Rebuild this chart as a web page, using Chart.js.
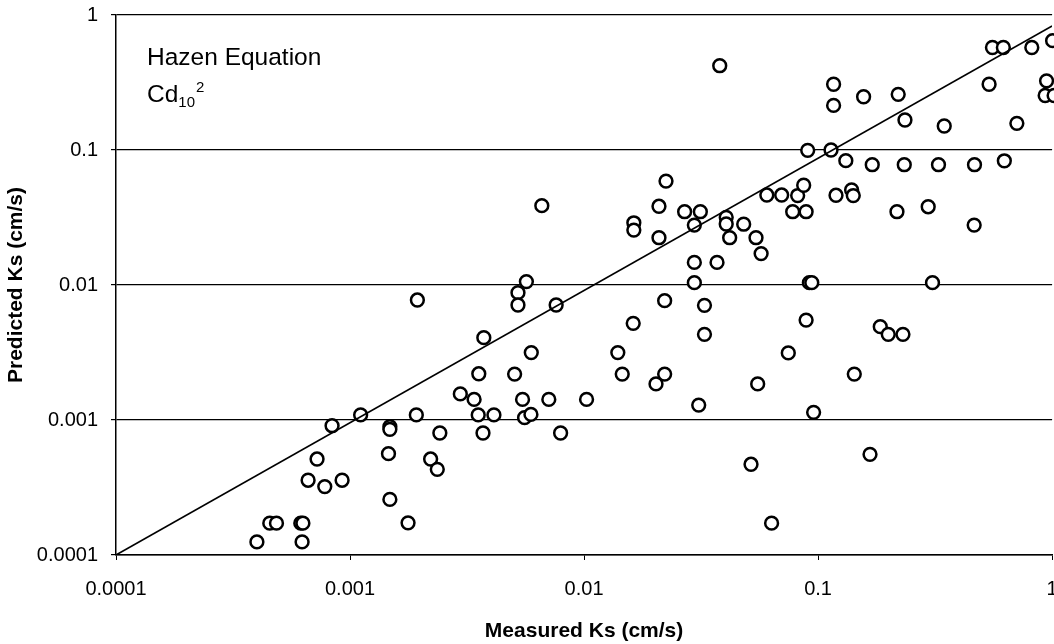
<!DOCTYPE html>
<html>
<head>
<meta charset="utf-8">
<title>Hazen Equation - Predicted vs Measured Ks</title>
<script src="https://cdn.jsdelivr.net/npm/chart.js@4.4.1/dist/chart.umd.min.js"></script>
<style>
  html, body { margin: 0; padding: 0; background: #fff; overflow: hidden; }
  /* a bit wider than the window: the plot runs off the right edge like the scan does */
  #wrap { width: 1061px; height: 644px; position: relative; }
</style>
</head>
<body>
<div id="wrap"><canvas id="ksChart"></canvas></div>
<script>
// Measured vs predicted hydraulic conductivity (cm/s)
const measuredKs = [
  0.0004, 0.000454, 0.000485, 0.000616, 0.000629, 0.000624, 0.000662, 0.000723, 0.00078, 0.000838,
  0.000925, 0.00111, 0.00148, 0.00148, 0.00146, 0.00148, 0.00177, 0.00192, 0.00194, 0.00221,
  0.00236, 0.00242, 0.00296, 0.00339, 0.00353, 0.00355, 0.0037, 0.00373, 0.00412, 0.00505,
  0.00522, 0.00522, 0.00567, 0.00546, 0.00557, 0.00593, 0.00595, 0.0066, 0.00707, 0.0076,
  0.00794, 0.01025, 0.01394, 0.01456, 0.01622, 0.01632, 0.01632, 0.0203, 0.0209, 0.0209,
  0.0221, 0.0221, 0.0224, 0.0269, 0.0296, 0.0296, 0.0296, 0.0309, 0.0314, 0.0327,
  0.0327, 0.037, 0.038, 0.0405, 0.0405, 0.0419, 0.0481, 0.0517, 0.0543, 0.0552,
  0.0571, 0.0604, 0.0633, 0.0699, 0.0746, 0.0779, 0.0818, 0.0868, 0.0889, 0.0889,
  0.0903, 0.0918, 0.094, 0.0957, 0.1136, 0.1165, 0.1165, 0.1193, 0.1314, 0.1391,
  0.1414, 0.1428, 0.1565, 0.1667, 0.1704, 0.1844, 0.1995, 0.2173, 0.22, 0.2305,
  0.2335, 0.2351, 0.2955, 0.3083, 0.327, 0.346, 0.466, 0.4645, 0.538, 0.556,
  0.619, 0.625, 0.707, 0.819, 1.005, 0.947, 0.934, 1.02
];
const predictedKs = [
  0.000125, 0.000172, 0.000172, 0.000172, 0.000172, 0.000125, 0.000358, 0.000514, 0.000321, 0.000907,
  0.000358, 0.00109, 0.000892, 0.000853, 0.000563, 0.000258, 0.000173, 0.00109, 0.00774, 0.000514,
  0.000431, 0.000801, 0.00156, 0.00142, 0.00109, 0.0022, 0.000801, 0.00407, 0.00109, 0.00219,
  0.00877, 0.00711, 0.0106, 0.00142, 0.00104, 0.0011, 0.00316, 0.0387, 0.00142, 0.00711,
  0.000801, 0.00142, 0.00316, 0.00219, 0.0052, 0.0289, 0.0255, 0.00185, 0.0383, 0.0224,
  0.00765, 0.00219, 0.0589, 0.0349, 0.0278, 0.0147, 0.0104, 0.00129, 0.0349, 0.00707,
  0.00431, 0.0147, 0.421, 0.0317, 0.0283, 0.0224, 0.0282, 0.00047, 0.0224, 0.00185,
  0.0171, 0.0464, 0.000172, 0.0464, 0.00314, 0.0349, 0.046, 0.0548, 0.0349, 0.0055,
  0.0995, 0.0104, 0.0104, 0.00114, 0.1, 0.307, 0.214, 0.0462, 0.0833, 0.0506,
  0.046, 0.00219, 0.248, 0.000557, 0.0778, 0.00491, 0.00431, 0.0349, 0.2585, 0.00431,
  0.0778, 0.1668, 0.038, 0.0104, 0.0778, 0.1506, 0.0778, 0.0278, 0.307, 0.5745,
  0.5745, 0.0832, 0.1577, 0.5745, 0.645, 0.3255, 0.2533, 0.2533
];

// reference line as it is drawn in the figure
const refLineX = [0.0001, 1];
const refLineY = [0.0001, 0.83];

// decade ticks on both log axes
const xTicks = [0.0001, 0.001, 0.01, 0.1, 1];
const yTicks = [0.0001, 0.001, 0.01, 0.1, 1];
const tickLabels = ['0.0001', '0.001', '0.01', '0.1', '1'];

const xTitle = 'Measured Ks (cm/s)';
const yTitle = 'Predicted Ks (cm/s)';
const noteTitle = 'Hazen Equation';
const noteFormula = ['Cd', '10', '2'];

const FONT = '"Liberation Sans", Arial, sans-serif';

/**
 * Draws the "Hazen Equation / Cd10^2" note in the top-left corner of the plot.
 */
const notePlugin = {
    id: 'note',
    afterDraw(chart) {
        const { ctx, chartArea } = chart;
        const x = chartArea.left + 31;
        ctx.save();
        ctx.fillStyle = '#000';
        ctx.textBaseline = 'alphabetic';
        ctx.font = '24.5px ' + FONT;
        ctx.fillText(noteTitle, x, chartArea.top + 50);

        const base = chartArea.top + 87;
        ctx.fillText(noteFormula[0], x, base);
        const w1 = ctx.measureText(noteFormula[0]).width;
        ctx.font = '15px ' + FONT;
        ctx.fillText(noteFormula[1], x + w1, base + 5);
        const w2 = ctx.measureText(noteFormula[1]).width;
        ctx.fillText(noteFormula[2], x + w1 + w2 + 1, base - 10);
        ctx.restore();
    }
};

const points = measuredKs.map((v, i) => ({ x: v, y: predictedKs[i] }));
const refLine = refLineX.map((v, i) => ({ x: v, y: refLineY[i] }));

function decadeLabel(list) {
    return function (value) {
        const i = list.findIndex(t => Math.abs(t - value) / t < 1e-6);
        return i >= 0 ? tickLabels[i] : '';
    };
}

new Chart(document.getElementById('ksChart').getContext('2d'), {
    type: 'scatter',
    data: {
        datasets: [{
            label: 'Hazen',
            data: points,
            order: 1,
            clip: false,
            pointStyle: 'circle',
            pointRadius: 6.4,
            pointBorderWidth: 2.5,
            pointBackgroundColor: '#fff',
            pointBorderColor: '#000'
        }, {
            label: '1:1',
            type: 'line',
            data: refLine,
            order: 0,
            showLine: true,
            pointRadius: 0,
            borderColor: '#000',
            borderWidth: 1.6,
            fill: false
        }]
    },
    options: {
        responsive: true,
        maintainAspectRatio: false,
        animation: false,
        layout: { padding: { top: 15, right: 0, bottom: 0, left: 0 } },
        plugins: {
            legend: { display: false },
            tooltip: { enabled: false }
        },
        scales: {
            x: {
                type: 'logarithmic',
                min: 0.0001,
                max: 1,
                afterBuildTicks: s => { s.ticks = xTicks.map(v => ({ value: v })); },
                afterFit: s => { s.height = 89; s.paddingLeft = 0; s.paddingRight = 0; },
                border: { display: true, color: '#000', width: 1.5 },
                grid: { drawOnChartArea: false, drawTicks: true, tickLength: 5, color: '#000', lineWidth: 1 },
                ticks: {
                    autoSkip: false,
                    maxRotation: 0,
                    padding: 17,
                    color: '#000',
                    font: { family: FONT, size: 20 },
                    callback: decadeLabel(xTicks)
                },
                title: {
                    display: true,
                    text: xTitle,
                    color: '#000',
                    padding: { top: 0, bottom: 0 },
                    font: { family: FONT, size: 21, weight: 'bold' }
                }
            },
            y: {
                type: 'logarithmic',
                min: 0.0001,
                max: 1,
                afterBuildTicks: s => { s.ticks = yTicks.map(v => ({ value: v })); },
                afterFit: s => { s.width = 116; s.paddingTop = 0; s.paddingBottom = 0; },
                border: { display: true, color: '#000', width: 1.5 },
                grid: { drawOnChartArea: true, drawTicks: true, tickLength: 5, color: '#000', lineWidth: 1.2 },
                ticks: {
                    autoSkip: false,
                    padding: 13,
                    color: '#000',
                    font: { family: FONT, size: 20 },
                    callback: decadeLabel(yTicks)
                },
                title: {
                    display: true,
                    text: yTitle,
                    color: '#000',
                    padding: { top: 4, bottom: 0 },
                    font: { family: FONT, size: 21, weight: 'bold' }
                }
            }
        }
    },
    plugins: [notePlugin]
});
</script>
</body>
</html>
